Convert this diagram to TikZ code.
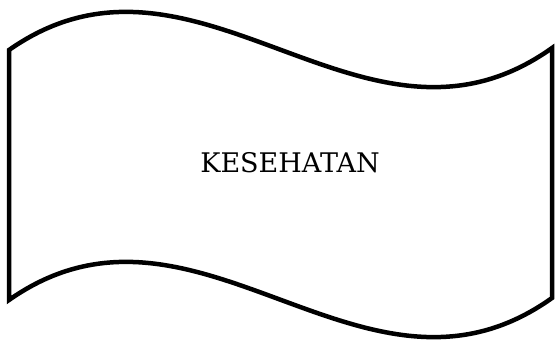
\documentclass[tikz,border=0pt]{standalone}
\usepackage{fontspec}
\setmainfont{DejaVu Serif}
\usepackage{tikz}
\begin{document}
\begin{tikzpicture}[x=1pt,y=-1pt,line width=4.5pt]
\useasboundingbox (0,0) rectangle (555,342);
\draw (9,50) .. controls (197,-82) and (364,182) .. (552,48) -- (552,298)
  .. controls (364,432) and (197,168) .. (9,300) -- cycle;
\node[font=\fontsize{27}{30}\selectfont] (label) at (290,162.5) {KESEHATAN};
\end{tikzpicture}
\end{document}
